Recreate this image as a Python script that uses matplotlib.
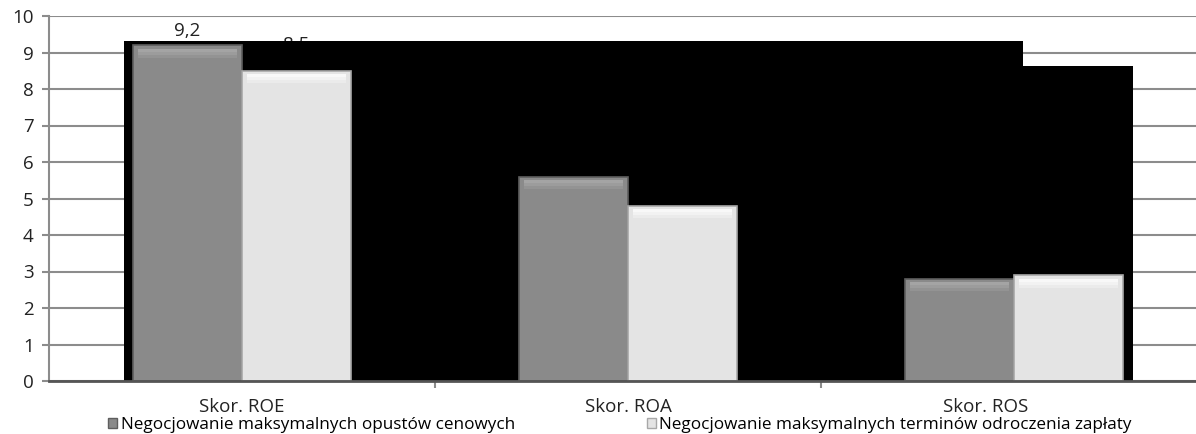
import matplotlib
matplotlib.use("Agg")
import matplotlib.pyplot as plt
import matplotlib.transforms as mtransforms
from matplotlib.patches import Rectangle, Patch
import numpy as np

categories = ["Skor. ROE", "Skor. ROA", "Skor. ROS"]
series_names = ["Negocjowanie maksymalnych opustów cenowych",
                "Negocjowanie maksymalnych terminów odroczenia zapłaty"]
opusty = [9.2, 5.6, 2.8]
terminy = [8.5, 4.8, 2.9]
yticks = list(range(0, 11))

plt.rcParams['font.family'] = ['Open Sans', 'DejaVu Sans']

fig = plt.figure(figsize=(11.96, 4.34), dpi=100)
ax = fig.add_axes([49/1196, 53/434, (1207-49)/1196, 365/434])
ax.set_xlim(-0.5, 2.5)
ax.set_ylim(0, 10)

x = np.arange(len(categories))
w = 0.282
FS = 13.5

for xi, v in zip(x - w/2, opusty):
    ax.annotate(f"{v:.1f}".replace('.', ','), (xi, v), xytext=(0, 4),
                textcoords='offset points', ha='center', va='bottom',
                fontsize=FS, color='#222222', zorder=2)
for xi, v in zip(x + w/2, terminy):
    ax.annotate(f"{v:.1f}".replace('.', ','), (xi, v), xytext=(0, 12),
                textcoords='offset points', ha='center', va='bottom',
                fontsize=FS, color='#222222', zorder=2)

# black rendering artefact block behind the bars
ax.add_patch(Rectangle((-0.306, 0), 2.023 + 0.306, 9.315, facecolor='black',
                       edgecolor='none', zorder=3))
ax.add_patch(Rectangle((2.0, 0), 0.308, 8.63, facecolor='black',
                       edgecolor='none', zorder=3))

b1 = ax.bar(x - w/2, opusty, w, color='#8a8a8a', edgecolor='#5e5e5e',
            linewidth=1.2, zorder=4)
b2 = ax.bar(x + w/2, terminy, w, color='#e4e4e4', edgecolor='#a8a8a8',
            linewidth=1.2, zorder=4)
# soft bevel highlight near the top (fading bands)
for bars, hls in ((b1, ['#a4a4a4', '#9c9c9c', '#939393']),
                  (b2, ['#f8f8f8', '#f2f2f2', '#ebebeb'])):
    for r in bars:
        for k, hl in enumerate(hls):
            ax.add_patch(Rectangle((r.get_x() + 0.012, r.get_height() - 0.10 - 0.08*(k+1)),
                                   r.get_width() - 0.024, 0.08, facecolor=hl,
                                   edgecolor='none', zorder=5))

ax.set_yticks(yticks)
ax.set_yticklabels([str(t) for t in yticks], fontsize=FS, color='#222222')
ax.yaxis.grid(True, color='#8c8c8c', linewidth=1.5, zorder=1)
ax.set_axisbelow(True)

ax.set_xticks([0.5, 1.5])
ax.set_xticklabels([])
ax.set_xticks(x, minor=True)
ax.set_xticklabels(categories, minor=True, fontsize=13.5, color='#222222')
ax.tick_params(axis='x', which='minor', length=0, pad=12)
ax.tick_params(axis='x', which='major', length=5, color='#8c8c8c', width=1.5)
ax.tick_params(axis='y', length=5, color='#8c8c8c', width=1.5, pad=6)
lbl = ax.get_xticklabels(minor=True)[-1]
lbl.set_transform(lbl.get_transform() +
                  mtransforms.ScaledTranslation(-28/100, 0, fig.dpi_scale_trans))

for s in ('top', 'right'):
    ax.spines[s].set_visible(False)
ax.spines['left'].set_color('#8c8c8c')
ax.spines['left'].set_linewidth(1.5)
ax.spines['bottom'].set_color('#555555')
ax.spines['bottom'].set_linewidth(2)
ax.spines['bottom'].set_zorder(6)

handles = [Patch(facecolor='#8a8a8a', edgecolor='#5e5e5e'),
           Patch(facecolor='#e4e4e4', edgecolor='#a8a8a8')]
fig.legend(handles, series_names, loc='center left',
           bbox_to_anchor=(108/1196, 1 - 425/434), ncol=2, frameon=False,
           fontsize=12.3, handlelength=0.55, handleheight=0.55, handletextpad=0.2,
           columnspacing=7.7, borderpad=0, borderaxespad=0)

fig.savefig("out.png", dpi=100)
